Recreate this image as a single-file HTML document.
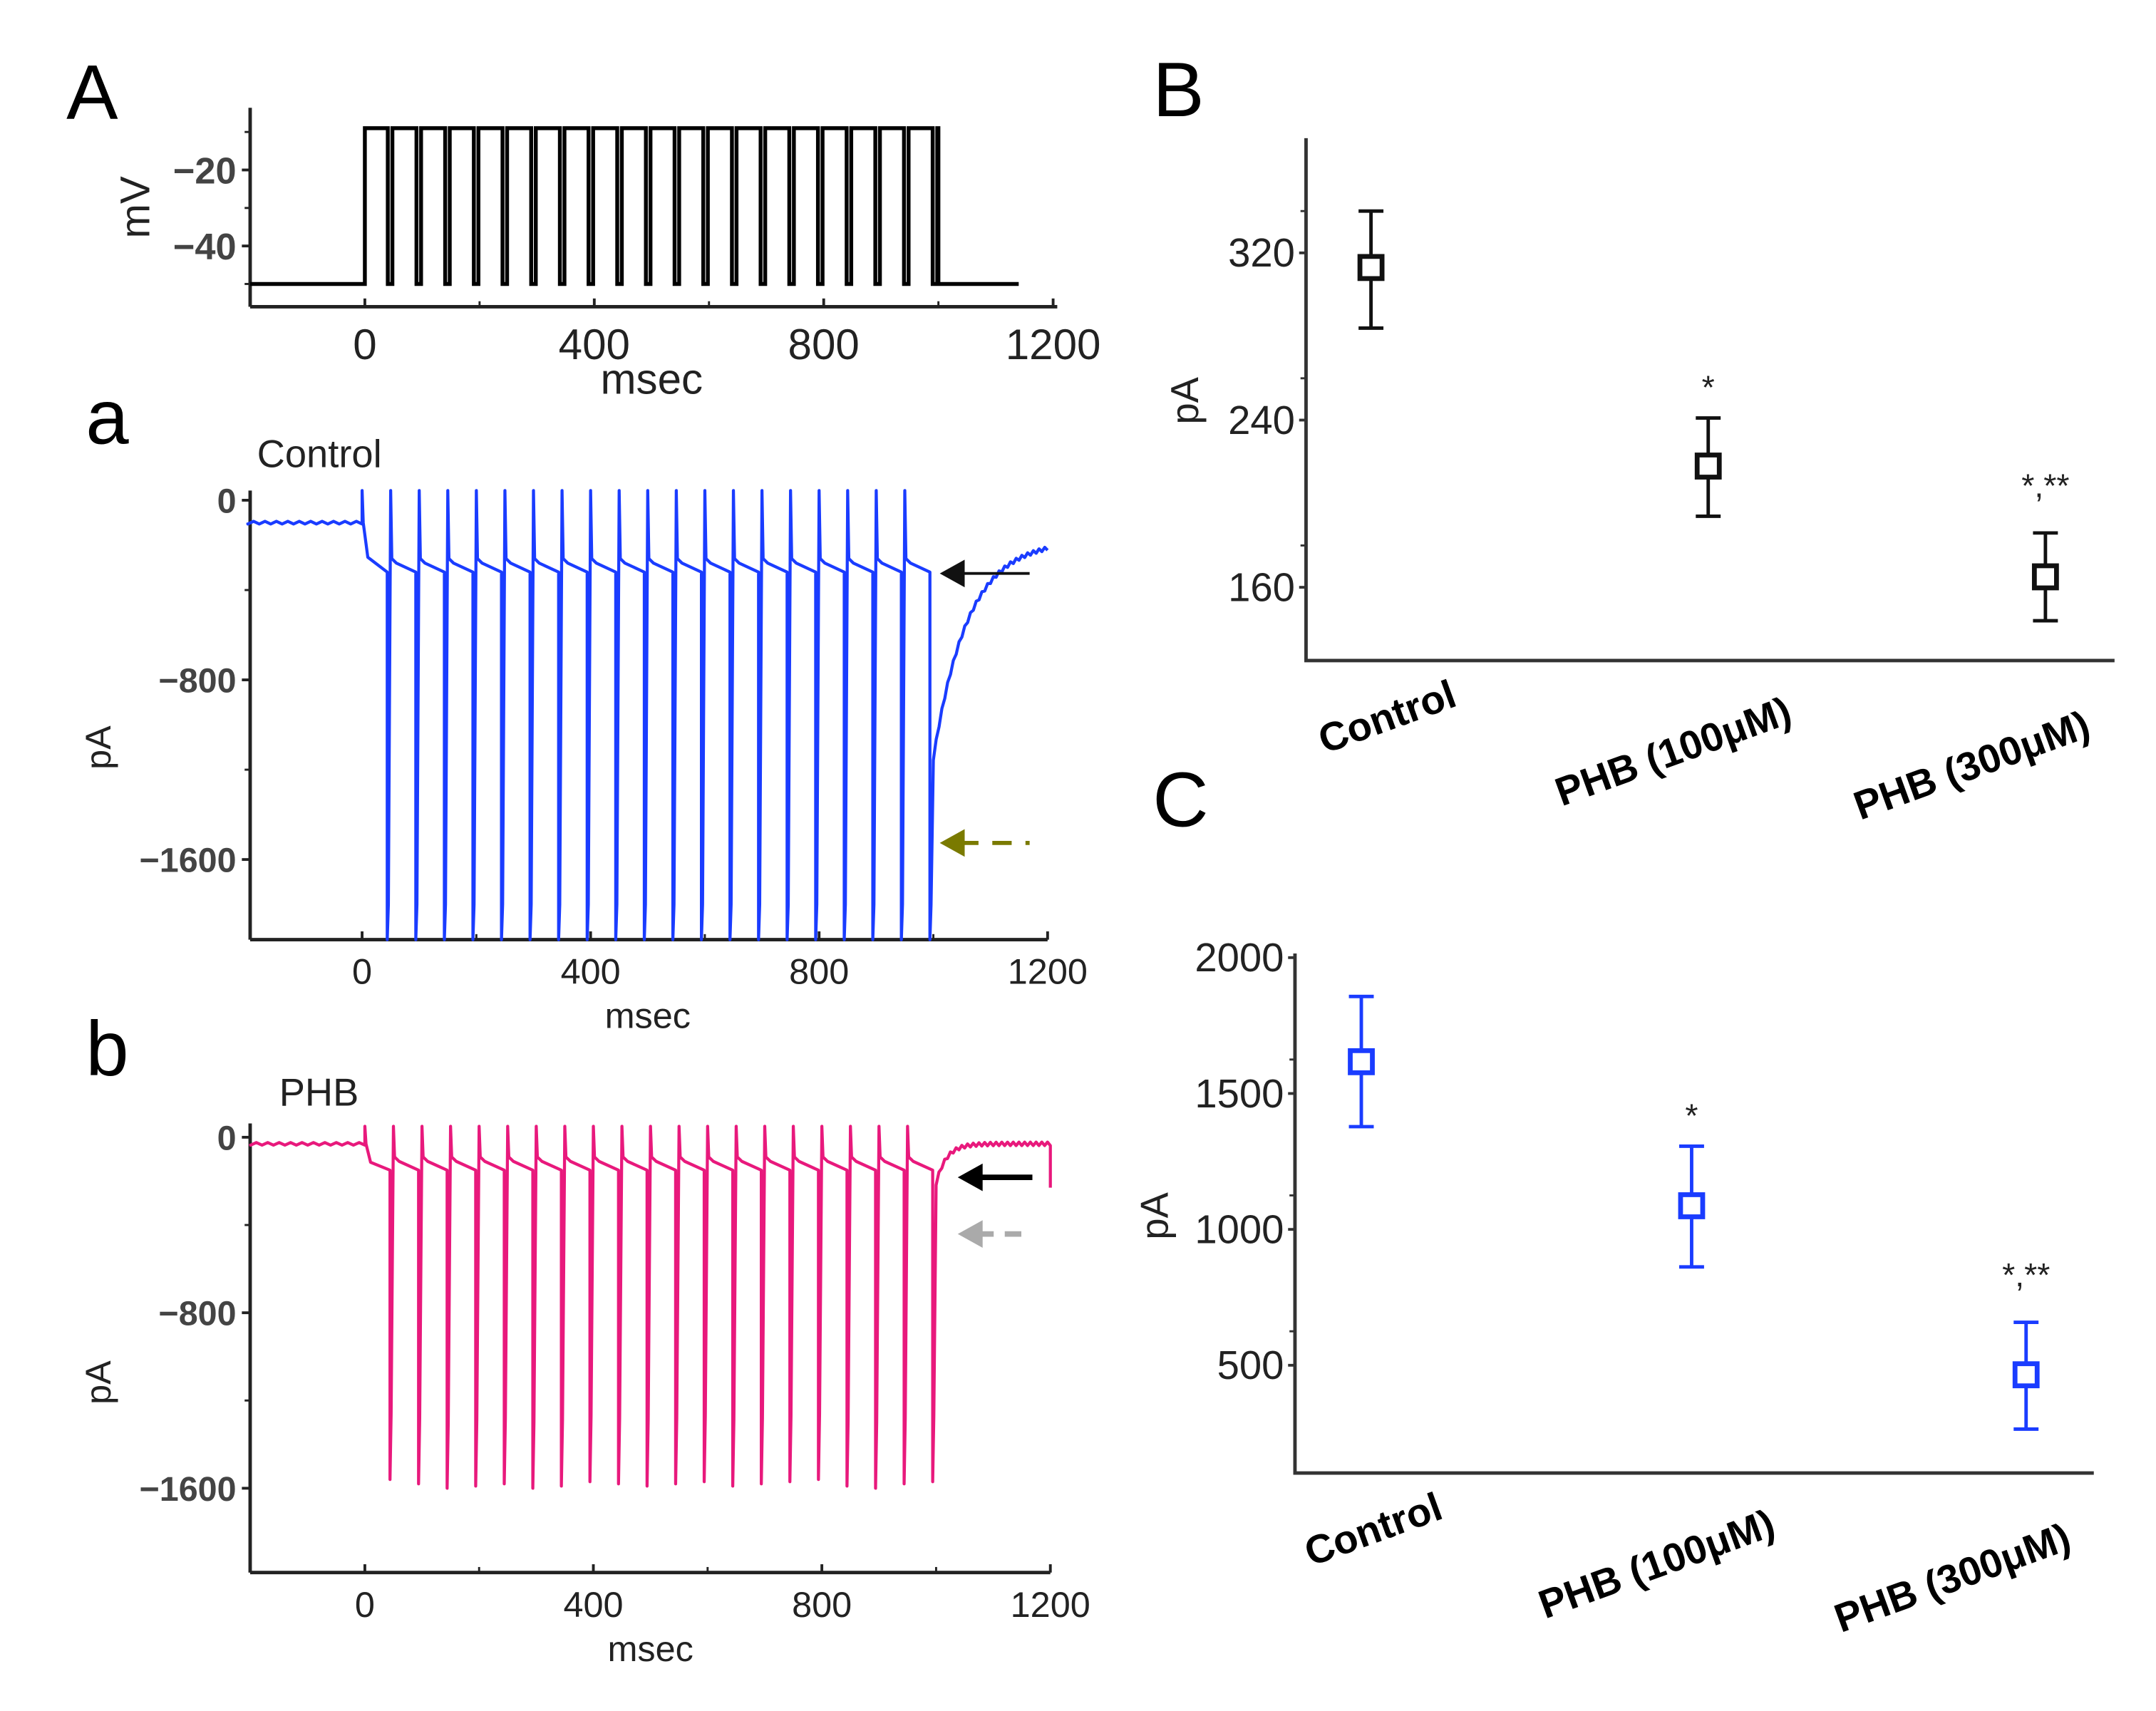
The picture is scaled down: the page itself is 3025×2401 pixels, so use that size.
<!DOCTYPE html>
<html><head><meta charset="utf-8"><style>
html,body{margin:0;padding:0;background:#fff}
svg{display:block}
text{font-family:"Liberation Sans",sans-serif}
.lbl{font-family:"Liberation Sans",sans-serif;font-weight:bold}
</style></head><body>
<svg id="fig" width="3025" height="2401" viewBox="0 0 1560 1238.2" xmlns="http://www.w3.org/2000/svg">
<g id="root"></g>
</svg>
<script>
// ---- data ----
const pulseTimes = [0,50,100,150,200,250,300,350,400,450,500,550,600,650,700,750,800,850,900,950];
const voltageHold = -50, voltageStep = -9;
const ctrlBaseline = -100, ctrlPlateau = -320, ctrlTailStart = -1150, ctrlTailEnd = -180;
const phbBaseline = -30, phbPlateau = -150, phbNegPeaks = [-1560,-1580,-1600,-1590,-1580,-1600,-1590,-1570,-1580,-1590,-1580,-1570,-1590,-1580,-1570,-1560,-1590,-1600,-1580,-1570];
const groups = ["Control","PHB (100μM)","PHB (300μM)"];
const bMean = [313,218,165];
const bHi = [340,241,186];
const bLo = [284,194,144];
const cMean = [1617,1087,465];
const cHi = [1857,1306,658];
const cLo = [1378,862,265];
const aTicks = [0,400,800,1200];
const vTicks = [-20,-40];
const iTicks = [0,-800,-1600];
const bTicks = [320,240,160];
const cTicks = [2000,1500,1000,500];

const NS="http://www.w3.org/2000/svg";
const root=document.getElementById('root');
function el(tag,attrs,parent,txt){const e=document.createElementNS(NS,tag);for(const k in attrs)e.setAttribute(k,attrs[k]);if(txt!==undefined)e.textContent=txt;(parent||root).appendChild(e);return e;}
function lin(d0,d1,r0,r1){return v=>r0+(v-d0)*(r1-r0)/(d1-d0);}

[["A",48,86,"panel-A-letter"],["a",62,321,"panel-a-letter"],["b",62,778,"panel-b-letter"],["B",834,84,"panel-B-letter"],["C",834,598,"panel-C-letter"]].forEach(p=>{
  const t=el('text',{x:p[1],y:p[2],'font-size':56,fill:'#000'},root,p[0]);
  
  
});

function xAxis(g,x,y0,xl,xr,ticks,labY,title,titleY,fs,name){
  const ax=el('line',{x1:xl,x2:xr,y1:y0,y2:y0,stroke:'#222','stroke-width':2.5},g);
  
  
  ticks.forEach(t=>{el('line',{x1:x(t),x2:x(t),y1:y0,y2:y0-6,stroke:'#222','stroke-width':2},g);
    const tl=el('text',{x:x(t),y:labY,'font-size':fs,'text-anchor':'middle',fill:'#222'},g,t);
    
    });
  for(let t=ticks[0]-200;t<=ticks[ticks.length-1];t+=200){if(x(t)>=xl-1)el('line',{x1:x(t),x2:x(t),y1:y0,y2:y0-4,stroke:'#222','stroke-width':1.5},g);}
  const tt=el('text',{x:x(500),y:titleY,'font-size':fs,'text-anchor':'middle',fill:'#222'},g,title);
  
  
}
function yAxis(g,y,xl,yt,yb,ticks,fs,name,minor){
  const ax=el('line',{x1:xl,x2:xl,y1:yt,y2:yb,stroke:'#222','stroke-width':2.5},g);
  
  
  ticks.forEach(t=>{el('line',{x1:xl,x2:xl-6,y1:y(t),y2:y(t),stroke:'#222','stroke-width':2},g);
    const tl=el('text',{x:xl-10,y:y(t)+fs*0.36,'font-size':fs,'text-anchor':'end',fill:'#444','font-weight':'bold'},g,t===0?'0':String(t).replace('-','\u2212'));
    
    });
  (minor||[]).forEach(t=>{if(y(t)>yt&&y(t)<yb)el('line',{x1:xl,x2:xl-4,y1:y(t),y2:y(t),stroke:'#222','stroke-width':1.5},g);});
}

// ---- Panel A ----
{
 const g=el('g',{});
 const x=lin(0,1200,264,762), y=lin(-20,-40,123,178);
 xAxis(g,x,222,181,765,aTicks,260,'msec',285,31,'voltage');
 yAxis(g,y,181,78,222,vTicks,27,'voltage',[-10,-30,-50]);
 const yl=el('text',{transform:'translate(108,150) rotate(-90)','font-size':30,'text-anchor':'middle',fill:'#222'},g,'mV');
 
 let d=`M${x(-200)} ${y(voltageHold)} L${x(0)} ${y(voltageHold)}`;
 pulseTimes.forEach((t,i)=>{d+=` L${x(t)} ${y(voltageStep)} L${x(t+40)} ${y(voltageStep)} L${x(t+40)} ${y(voltageHold)} L${x(t+48)} ${y(voltageHold)} L${x(t+48)} ${y(voltageStep)}`;});
 d+=` L${x(1000)} ${y(voltageStep)} L${x(1000)} ${y(voltageHold)} L${x(1140)} ${y(voltageHold)}`;
 const p=el('path',{d:d,fill:'none',stroke:'#000','stroke-width':2.8},g);
 
}

function currentPanel(opts){
 const g=el('g',{});
 const x=lin(0,1200,opts.x0,opts.x1200), y=lin(0,-800,opts.y0,opts.y800);
 xAxis(g,x,opts.yb,181,opts.x1200,aTicks,opts.yb+32,'msec',opts.yb+64,26,opts.name);
 yAxis(g,y,181,opts.yt,opts.yb,iTicks,25,opts.name,[-400,-1200,-2000]);
 const yl=el('text',{transform:`translate(80,${(opts.y0+opts.yb)/2+20}) rotate(-90)`,'font-size':26,'text-anchor':'middle',fill:'#222'},g,'pA');
 
 const cl=el('text',{x:opts.labX,y:opts.labY,'font-size':28,fill:'#222'},g,opts.label);
 
 const cy=v=>Math.max(opts.yt,Math.min(opts.yb,y(v)));
 let d=`M${x(-200)} ${cy(opts.base)}`;
 for(let t=-200;t<=0;t+=10)d+=` L${x(t)} ${cy(opts.base+((t/10)%2?6:-6))}`;
 d+=` L${x(0)} ${cy(opts.top)} L${x(2)} ${cy(opts.base)}`;
 pulseTimes.forEach((t,i)=>{
   const first=i===0;
   d+=` L${x(t+10)} ${cy(opts.plateau+ (first?(opts.plateau-opts.base)*-0.3:40))} L${x(t+44)} ${cy(opts.plateau)}`;
   d+=` L${x(t+44)} ${cy(opts.neg[i])} L${x(t+46)} ${cy(opts.neg[i]+300)}`;
   if(i<pulseTimes.length-1) d+=` L${x(t+50)} ${cy(opts.top)} L${x(t+52)} ${cy(opts.plateau+60)}`;
 });
 const tail=opts.tail;
 for(let k=0;k<=40;k++){const t=1000+k*5;const v=tail[1]+(tail[0]-tail[1])*Math.exp(-(t-1000)/opts.tau);d+=` L${x(t)} ${cy(v+(k%2?8:-8))}`;}
 if(opts.endDrop!==undefined)d+=` L${x(1200)} ${cy(opts.endDrop)}`;
 const p=el('path',{d:d,fill:'none',stroke:opts.color,'stroke-width':2.2,'stroke-linejoin':'round'},g);
 
 return {g,x,y};
}
const ctrlNeg=pulseTimes.map(()=>-2100);
currentPanel({name:'control',x0:262,x1200:758,y0:362,y800:492,yt:355,yb:680,base:ctrlBaseline,plateau:ctrlPlateau,top:60,neg:ctrlNeg,tail:[ctrlTailStart,ctrlTailEnd],tau:60,color:'#1a3cff',label:'Control',labX:186,labY:338});
currentPanel({name:'phb',x0:264,x1200:760,y0:823,y800:950,yt:813,yb:1138,base:phbBaseline,plateau:phbPlateau,top:50,neg:phbNegPeaks,tail:[phbPlateau-60,phbBaseline],tau:18,color:'#e8197c',label:'PHB',labX:202,labY:800,endDrop:-230});

function arrow(x1,x2,yy,color,dash,w,name){
 const g=el('g',{});
 el('line',{x1:x1+14,x2:x2,y1:yy,y2:yy,stroke:color,'stroke-width':w,'stroke-dasharray':dash||'none'},g);
 el('polygon',{points:`${x1},${yy} ${x1+18},${yy-10} ${x1+18},${yy+10}`,fill:color},g);
}
arrow(680,745,415,'#111','',2,'control-plateau-arrow');
arrow(680,745,610,'#7a7a00','14 10',3,'control-peak-arrow');
arrow(693,747,852,'#000','',4,'phb-plateau-arrow');
arrow(693,747,893,'#aaa','12 8',4,'phb-peak-arrow');

function summary(opts){
 const g=el('g',{});
 const y=lin(opts.t0,opts.t1,opts.y0,opts.y1);
 const ax=el('path',{d:`M${opts.xl} ${opts.yt} L${opts.xl} ${opts.yb} L${opts.xr} ${opts.yb}`,fill:'none',stroke:'#333','stroke-width':2.5},g);
 
 opts.ticks.forEach(t=>{el('line',{x1:opts.xl,x2:opts.xl-5,y1:y(t),y2:y(t),stroke:'#333','stroke-width':2},g);
  const tl=el('text',{x:opts.xl-8,y:y(t)+10,'font-size':29,'text-anchor':'end',fill:'#222'},g,t);
  });
 opts.ticks.forEach(t=>{const m=t+opts.step/2;if(y(m)>opts.yt&&y(m)<opts.yb)el('line',{x1:opts.xl,x2:opts.xl-4,y1:y(m),y2:y(m),stroke:'#333','stroke-width':1.5},g);});
 const yl=el('text',{transform:`translate(${opts.xl-opts.pax},${opts.pay}) rotate(-90)`,'font-size':28,'text-anchor':'middle',fill:'#222'},g,'pA');
 
 groups.forEach((gr,i)=>{
  const cx=opts.xs[i];
  const eb=el('path',{d:`M${cx-9} ${y(opts.hi[i])} L${cx+9} ${y(opts.hi[i])} M${cx} ${y(opts.hi[i])} L${cx} ${y(opts.lo[i])} M${cx-9} ${y(opts.lo[i])} L${cx+9} ${y(opts.lo[i])}`,stroke:opts.color,'stroke-width':2.5,fill:'none'},g);
  
  const r=el('rect',{x:cx-8,y:y(opts.mean[i])-8,width:16,height:16,fill:'#fff',stroke:opts.color,'stroke-width':3.5},g);
  
  const lb=el('text',{transform:`translate(${cx+opts.lx[i]},${opts.yb+opts.ly[i]}) rotate(-20)`,'font-size':29,'text-anchor':'middle',fill:'#000','class':'lbl'},g,gr);
  
  if(i>0){const s=el('text',{x:cx,y:y(opts.hi[i])-(i==1?14:26),'font-size':24,'text-anchor':'middle',fill:'#222'},g,i==1?'*':'*,**');
   }
 });
}
summary({name:'peak-summary-B',t0:320,t1:160,y0:183,y1:425,yt:100,yb:478,xl:945,xr:1530,ticks:bTicks,step:40,mean:bMean,hi:bHi,lo:bLo,xs:[992,1236,1480],color:'#111',pay:290,pax:78,lx:[15,-22,-50],ly:[50,75,85]});
summary({name:'peak-summary-C',t0:2000,t1:500,y0:693,y1:988,yt:690,yb:1066,xl:937,xr:1515,ticks:cTicks,step:250,mean:cMean,hi:cHi,lo:cLo,xs:[985,1224,1466],color:'#1a3cff',pay:880,pax:92,lx:[12,-22,-50],ly:[50,75,85]});
</script>
</body></html>
